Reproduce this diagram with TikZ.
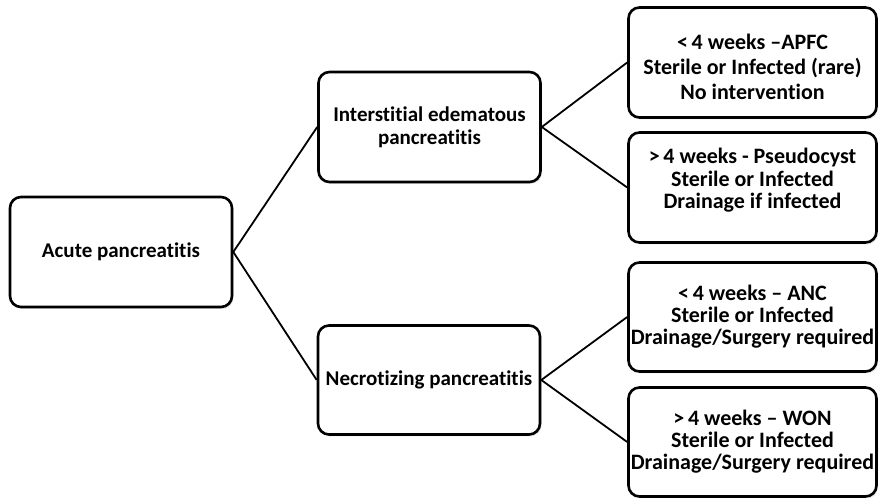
\documentclass[tikz,border=0pt]{standalone}
\usepackage{fontspec}
\setmainfont{Carlito}[Ligatures=NoCommon]
\usetikzlibrary{shadows}
\begin{document}
\begin{tikzpicture}[x=1pt,y=1pt,
  box/.style={draw,fill=white,line width=2.6pt,rounded corners=11pt,align=center,inner sep=0pt,
    drop shadow={opacity=0.18,shadow xshift=1.5pt,shadow yshift=-2pt},
    font=\fontsize{21}{23}\selectfont\bfseries},
  rbox/.style={box,minimum width=248,minimum height=110,font=\fontsize{22}{22}\selectfont\bfseries},
  txt/.style={align=center,inner sep=0pt,font=\fontsize{22}{22.5}\selectfont\bfseries},
  link/.style={line width=1.8pt}]
\useasboundingbox (0,0) rectangle (879,498);
\node[box,minimum width=222,minimum height=110] (acute) at (121,246) {Acute pancreatitis};
\node[box,minimum width=222,minimum height=110] (ied) at (429.5,371) {Interstitial edematous\\pancreatitis};
\node[box,minimum width=222,minimum height=109] (necro) at (429,118) {Necrotizing pancreatitis};
\node[rbox] (apfc) at (752.5,435.5) {};
\node[txt,font=\fontsize{22}{25}\selectfont\bfseries] (apfc-txt) at ([yshift=-4]apfc.center) {<\,4 weeks --APFC\\Sterile or Infected (rare)\\No intervention};
\node[rbox] (cyst) at (752.5,310.5) {};
\node[txt] (cyst-txt) at ([yshift=7]cyst.center) {>\,4 weeks - Pseudocyst\\Sterile or Infected\\Drainage if infected};
\node[rbox,minimum height=109] (anc) at (752.5,181) {<\,4 weeks -- ANC\\Sterile or Infected\\Drainage/Surgery required};
\node[rbox,minimum height=109] (won) at (752.5,56) {>\,4 weeks -- WON\\Sterile or Infected\\Drainage/Surgery required};
\draw[link] (acute.east) -- (ied.west);
\draw[link] (acute.east) -- (necro.west);
\draw[link] (ied.east) -- (apfc.west);
\draw[link] (ied.east) -- (cyst.west);
\draw[link] (necro.east) -- (anc.west);
\draw[link] (necro.east) -- (won.west);
\end{tikzpicture}
\end{document}
